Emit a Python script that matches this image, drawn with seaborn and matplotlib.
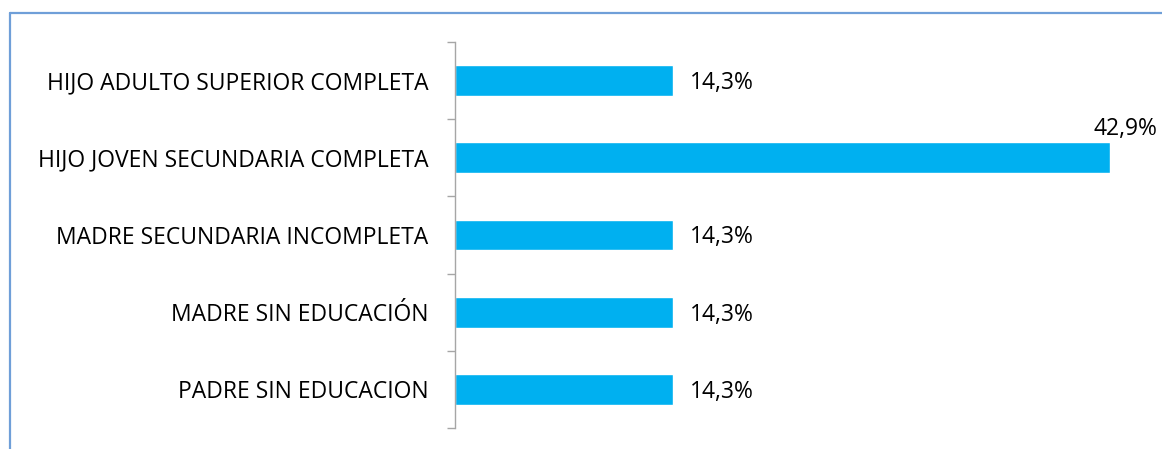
import pandas as pd
import matplotlib
matplotlib.use("Agg")
import matplotlib.pyplot as plt
from matplotlib.lines import Line2D
import seaborn as sns

categorias = [
    "HIJO ADULTO SUPERIOR COMPLETA",
    "HIJO JOVEN SECUNDARIA COMPLETA",
    "MADRE SECUNDARIA INCOMPLETA",
    "MADRE SIN EDUCACIÓN",
    "PADRE SIN EDUCACION",
]
porcentajes = [14.3, 42.9, 14.3, 14.3, 14.3]

df = pd.DataFrame({"categoria": categorias, "pct": porcentajes})

sns.set_style("white")
plt.rcParams["font.family"] = ["Open Sans", "DejaVu Sans"]
plt.rcParams["text.color"] = "black"

W, H = 1162, 449
fig = plt.figure(figsize=(W / 100, H / 100), dpi=100)
ax = fig.add_axes([455 / W, 1 - 428 / H, (1110 - 455) / W, (428 - 42) / H])

sns.barplot(data=df, x="pct", y="categoria", color="#00B0F0", width=0.4,
            saturation=1, ax=ax)

ax.set_xlim(0, max(porcentajes))
ax.set_ylim(len(categorias) - 0.5, -0.5)
ax.set_xlabel("")
ax.set_ylabel("")
ax.set_xticks([])

for s in ["top", "right", "bottom"]:
    ax.spines[s].set_visible(False)
ax.spines["left"].set_color("#a6a6a6")
ax.spines["left"].set_linewidth(1)

# etiquetas sin marca, marcas en los limites de cada categoria
ax.tick_params(axis="y", which="major", left=False, length=0, pad=19,
               labelsize=16.5, labelcolor="black")
ax.set_yticks([i - 0.5 for i in range(len(categorias) + 1)], minor=True)
ax.tick_params(axis="y", which="minor", left=True, length=6,
               color="#a6a6a6", width=1)

for i, v in enumerate(porcentajes):
    txt = f"{v:.1f}%".replace(".", ",")
    if v == max(porcentajes):
        ax.text(v + 3.1, i - 0.22, txt, ha="right", va="bottom", fontsize=16.5,
                clip_on=False)
    else:
        ax.text(v + 1.1, i + 0.03, txt, ha="left", va="center", fontsize=16.5)

# borde del area del grafico
bc = "#6f9fd8"
fig.add_artist(Line2D([10 / W, 10 / W], [0, 1 - 13 / H], color=bc, lw=1.6,
                      transform=fig.transFigure))
fig.add_artist(Line2D([10 / W, 1], [1 - 13 / H, 1 - 13 / H], color=bc, lw=1.6,
                      transform=fig.transFigure))

fig.savefig("out.png", dpi=100)
